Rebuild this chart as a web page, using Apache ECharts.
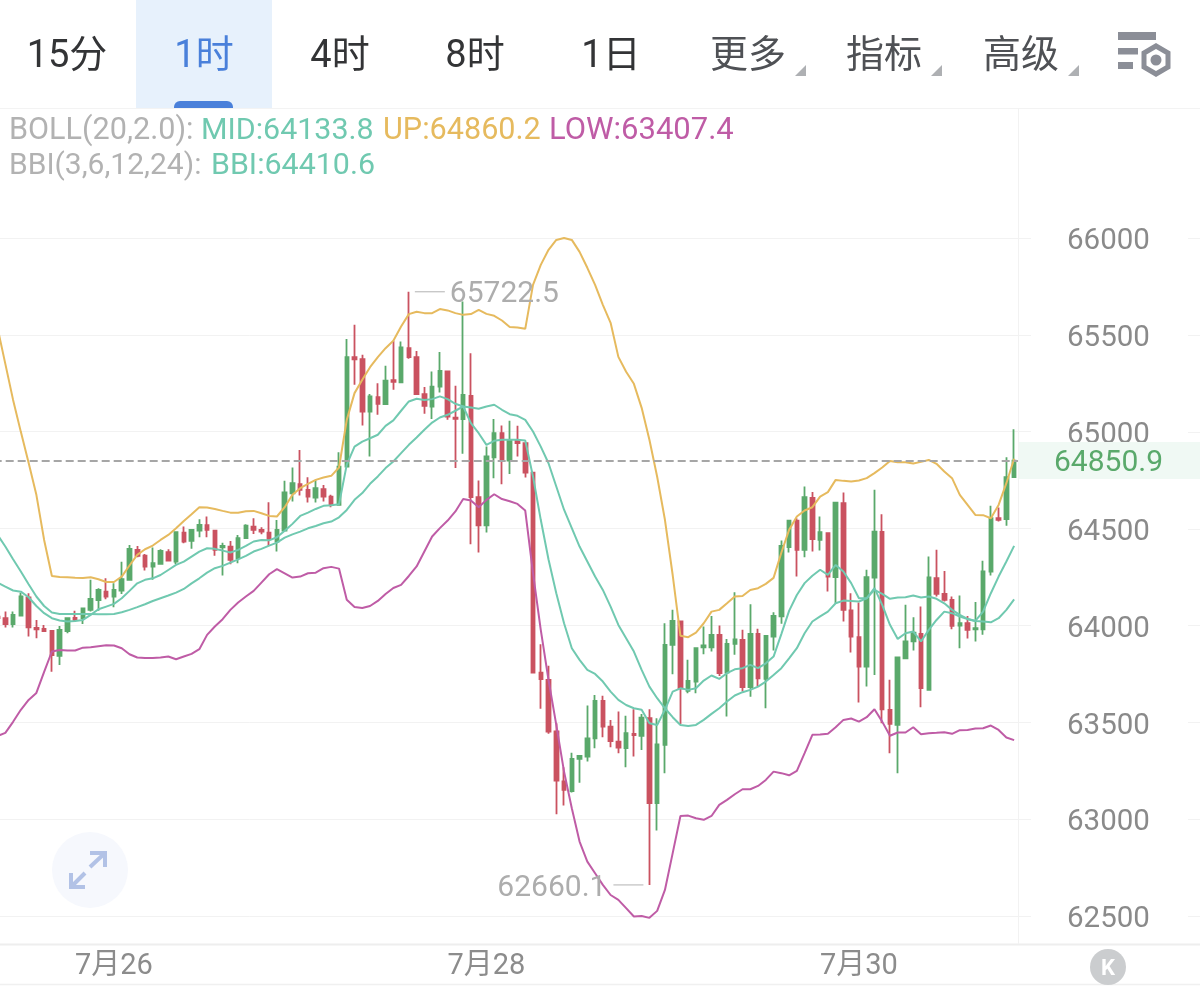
<!DOCTYPE html>
<html>
<head>
<meta charset="utf-8">
<style>html,body{margin:0;padding:0;background:#fff;overflow:hidden;width:1200px;height:988px;position:relative}#c{position:absolute;left:-7px;top:0;width:1207px;height:988px}</style>
<script src="https://cdn.jsdelivr.net/npm/echarts@6/dist/echarts.min.js"></script>
</head>
<body>
<div id="c"></div>
<script>
// Hourly candles: [open, close, low, high]
const ohlc = [
[64045,64038,64030,64050],[64037,64007,63989,64071],[64007,64054,63989,64071],[64051,64149,64051,64169],
[64145,63990,63942,64166],[63987,63980,63933,64028],[63982,63971,63968,64002],[63971,63847,63761,63971],
[63842,63977,63796,63997],[63971,64037,63959,64042],[64038,64028,64020,64076],[64037,64088,64007,64088],
[64080,64137,64071,64235],[64131,64183,64076,64192],[64174,64149,64135,64243],[64149,64183,64094,64217],
[64180,64238,64162,64329],[64235,64395,64235,64415],[64390,64359,64352,64410],[64360,64303,64283,64369],
[64303,64321,64235,64402],[64317,64384,64317,64393],[64378,64334,64331,64393],[64329,64481,64317,64481],
[64479,64433,64424,64510],[64436,64493,64395,64498],[64489,64519,64455,64548],[64517,64493,64455,64562],
[64489,64390,64359,64489],[64403,64410,64257,64427],[64407,64338,64316,64436],[64347,64450,64321,64467],
[64450,64515,64448,64522],[64510,64493,64472,64553],[64493,64484,64470,64507],[64479,64445,64410,64636],
[64433,64493,64381,64544],[64489,64687,64489,64746],[64682,64734,64639,64815],[64729,64699,64670,64906],
[64699,64665,64634,64765],[64660,64708,64634,64751],[64703,64665,64639,64725],[64665,64622,64610,64674],
[64622,64820,64622,64894],[64820,65385,64820,65478],[65385,65374,65242,65552],[65374,65104,65032,65397],
[65104,65182,64872,65194],[65178,65144,65087,65250],[65142,65263,65142,65340],[65266,65257,65216,65469],
[65254,65435,65254,65466],[65431,65385,65376,65722.5],[65385,65194,65189,65417],[65194,65133,65092,65230],
[65130,65233,65066,65311],[65233,65314,65202,65411],[65311,65078,65061,65311],[65073,65066,64812,65237],
[65065,65190,64886,65672],[65185,64662,64419,65405],[64662,64516,64376,64748],[64516,64872,64479,64923],
[64868,64992,64760,65065],[64992,64851,64729,65032],[64851,64958,64782,65056],[64953,64941,64872,65030],
[64941,64789,64763,64941],[64789,63756,63756,64789],[63756,63722,63569,63903],[63718,63452,63440,63791],
[63452,63199,63025,63495],[63194,63151,63070,63268],[63145,63311,63137,63343],[63311,63326,63188,63331],
[63323,63417,63297,63586],[63417,63610,63366,63641],[63610,63477,63422,63636],[63477,63403,63371,63512],
[63400,63369,63340,63555],[63366,63443,63268,63533],[63440,63433,63323,63567],[63429,63524,63357,63543],
[63521,63082,62660.1,63567],[63082,63386,62941,63521],[63383,63899,63237,64011],[63899,64023,63748,64080],
[64020,63675,63491,64020],[63662,63713,63650,63822],[63710,63882,63650,63882],[63887,63896,63851,63994],
[63887,63951,63865,64049],[63951,63753,63739,63999],[63756,63904,63529,63930],[63904,63928,63848,64171],
[63925,63681,63658,63977],[63681,63956,63632,64109],[63956,63727,63687,63982],[63724,63946,63572,63946],
[63942,64049,63870,64068],[64046,64410,64008,64438],[64404,64540,64376,64545],[64540,64390,64252,64553],
[64390,64662,64352,64717],[64658,64445,64381,64688],[64441,64481,64386,64562],[64476,64252,64175,64476],
[64249,64634,64114,64634],[64631,64080,64020,64686],[64077,63942,63860,64166],[63939,63787,63602,64118],
[63787,64249,63684,64287],[64247,64484,63744,64700],[64483,63567,63495,64574],[63564,63491,63340,63719],
[63486,63834,63237,63834],[63830,63917,63830,64106],[63917,63963,63870,64042],[63956,63676,63577,64097],
[63667,64247,63664,64355],[64244,64163,64149,64390],[64163,64132,64123,64281],[64132,63997,63980,64149],
[63999,64011,63882,64154],[64011,63977,63932,64049],[63979,63985,63917,64120],[63980,64278,63951,64333],
[64278,64553,64257,64617],[64553,64545,64536,64608],[64548,64765,64514,64868],[64765,64850.9,64765,65013]
];

const bollUp = [
65536,65350,65164,64999,64839,64674,64441,64255,64250,64248,64246,64245,64248,64238,64224,64224,
64252,64309,64364,64393,64412,64441,64467,64501,64539,64574,64610,64608,64601,64591,64582,64581,
64589,64591,64579,64565,64562,64610,64674,64708,64730,64751,64763,64772,64815,65061,65199,65268,
65333,65385,65431,65469,65543,65607,65619,65612,65612,65633,65626,65612,65603,65607,65629,65608,
65598,65574,65540,65538,65531,65758,65861,65939,65990,66000,65990,65928,65846,65758,65655,65562,
65386,65309,65247,65123,64958,64767,64545,64260,63946,63939,63963,64011,64071,64080,64114,64149,
64152,64183,64192,64214,64245,64375,64493,64562,64593,64610,64665,64688,64751,64746,64743,64748,
64760,64786,64815,64849,64842,64842,64836,64844,64854,64834,64794,64760,64674,64622,64570,64569,
64553,64622,64734,64860.2
];
const bollLow = [
63429,63445,63502,63564,63615,63651,63760,63865,63873,63870,63870,63885,63887,63892,63897,63896,
63882,63851,63834,63832,63832,63834,63839,63825,63839,63853,63877,63951,63994,64032,64080,64118,
64149,64178,64221,64264,64290,64269,64247,64252,64269,64272,64295,64302,64293,64132,64095,64090,
64100,64126,64162,64193,64209,64255,64304,64381,64459,64502,64541,64588,64652,64645,64610,64648,
64677,64652,64641,64627,64593,64270,63977,63718,63486,63245,63056,62884,62780,62720,62660,62608,
62583,62540,62497,62500,62490,62526,62634,62824,63016,63018,63004,62996,63016,63073,63099,63128,
63154,63154,63171,63202,63245,63237,63226,63249,63340,63435,63436,63440,63474,63512,63519,63503,
63526,63567,63503,63430,63447,63447,63474,63438,63443,63445,63448,63440,63459,63460,63467,63469,
63483,63460,63421,63407.4
];
const bollMid = [
64467,64407,64341,64278,64212,64149,64100,64066,64059,64059,64059,64059,64059,64057,64057,64059,
64068,64080,64094,64109,64126,64140,64154,64169,64188,64217,64243,64272,64295,64307,64324,64341,
64359,64381,64395,64412,64427,64453,64470,64484,64501,64513,64527,64536,64558,64596,64648,64683,
64731,64769,64812,64846,64889,64932,64970,65010,65047,65073,65087,65108,65130,65125,65118,65130,
65139,65113,65090,65082,65061,65001,64923,64837,64717,64597,64502,64407,64330,64252,64183,64097,
64002,63934,63865,63770,63684,63624,63572,63526,63486,63481,63486,63512,63543,63572,63607,63638,
63655,63667,63684,63710,63744,63779,63830,63882,63959,64020,64046,64071,64114,64128,64126,64123,
64140,64183,64163,64137,64144,64145,64154,64144,64149,64137,64114,64080,64054,64034,64023,64020,
64016,64037,64080,64133.8
];
const bbi = [
64221,64200,64180,64174,64145,64100,64063,64037,64025,64020,64023,64028,64054,64083,64097,64111,
64140,64178,64217,64235,64243,64260,64286,64312,64329,64355,64381,64398,64395,64386,64376,64390,
64410,64433,64441,64439,64455,64488,64524,64565,64582,64601,64617,64620,64625,64830,64923,64949,
64966,64984,65030,65058,65108,65156,65170,65164,65168,65182,65168,65144,65130,65044,64992,64932,
64953,64958,64958,64958,64954,64769,64545,64340,64166,64011,63882,63822,63770,63749,63710,63658,
63615,63589,63572,63564,63495,63486,63564,63658,63675,63667,63675,63715,63741,63724,63753,63773,
63779,63796,63779,63804,63839,63955,64075,64157,64218,64256,64287,64261,64312,64278,64218,64140,
64140,64192,64106,64003,63930,63959,63968,63917,63977,64028,64071,64063,64046,64032,64023,64071,
64166,64252,64330,64410.6
];

const priceTicks = [62500,63000,63500,64000,64500,65000,65500,66000];
const dateLabels = ['7月26','7月28','7月30'];
const periodTabs = ['15分','1时','4时','8时','1日','更多','指标','高级'];
const tabCentres = [67,204,340,475,611,748,884,1021];

// The first candle opens at 09:00 on 7月25
const categories = ohlc.map((_, i) => {
  const h = 9 + i, d = 25 + Math.floor(h / 24), hh = h % 24;
  return '7月' + d + ' ' + String(hh).padStart(2, '0') + ':00';
});

const FONT = 'Roboto, "Noto Sans CJK SC", sans-serif';
const GREEN = '#5aa96b', RED = '#ca5260', TEAL = '#70c9b0', GOLD = '#e6ba5e', PINK = '#bf5ca6', GREY = '#b2b2b2';
const RULE = '#f2f2f2';
const PAGE_OFFSET = 7; // the canvas starts left of the page so the oldest candle is cut by the edge
const last = ohlc[ohlc.length - 1][1];
const hiIdx = ohlc.findIndex(c => c[3] === Math.max(...ohlc.map(x => x[3])));
const loIdx = ohlc.findIndex(c => c[2] === Math.min(...ohlc.map(x => x[2])));

const text = (s, x, y, size, fill, align) => ({
  type: 'text', z: 20, silent: true,
  style: { text: s, x, y, fontSize: size, fontFamily: FONT, fill, align: align || 'left', verticalAlign: 'middle' }
});
const rule = (x1, y1, x2, y2, stroke, w) => ({
  type: 'line', z: 5, silent: true, shape: { x1, y1, x2, y2 }, style: { stroke: stroke || '#eeeeee', lineWidth: w || 1 }
});
const poly = (pts, style, closed) => ({
  type: closed ? 'polygon' : 'polyline', z: 20, silent: true, shape: { points: pts }, style
});

const chrome = [
  // tab bar
  { type: 'rect', z: 2, silent: true, shape: { x: 136, y: 0, width: 136, height: 108 }, style: { fill: '#e7f1fc' } },
  { type: 'rect', z: 3, silent: true, shape: { x: 174, y: 101, width: 59, height: 7, r: [6, 6, 0, 0] }, style: { fill: '#4a80da' } },
  rule(0, 108.5, 1200, 108.5, '#f3f3f3'),
  rule(0, 944.5, 1200, 944.5, '#eeeeee', 2),
  rule(0, 984.5, 1200, 984.5, '#f0f0f0', 1.5),
  rule(1018.5, 108, 1018.5, 944, '#f2f2f2'),
  // last-price band behind the axis readout
  { type: 'rect', z: 1, silent: true, shape: { x: 1019, y: 442, width: 181, height: 37 }, style: { fill: '#f0f9f4' } },
  ...periodTabs.map((t, i) => text(t, tabCentres[i], 57, 38, i === 1 ? '#4a80da' : i > 4 ? '#4f5155' : '#333436', 'center')),
  ...[806, 942, 1079].map(x => poly([[x, 65], [x, 76], [x - 11, 76]], { fill: '#aeb0b3' }, true)),
  // settings icon
  ...[[1118, 32, 38, 8], [1118, 48, 20, 6.5], [1118, 62, 15, 7]].map(r => ({
    type: 'rect', z: 20, silent: true, shape: { x: r[0], y: r[1], width: r[2], height: r[3] }, style: { fill: '#8b8e97' }
  })),
  poly([[1156, 46], [1168, 53], [1168, 67], [1156, 74], [1144, 67], [1144, 53]], { fill: '#fff', stroke: '#8b8e97', lineWidth: 5 }, true),
  { type: 'circle', z: 21, silent: true, shape: { cx: 1156, cy: 60, r: 5.5 }, style: { fill: '#8b8e97' } },
  // indicator readouts
  text('BOLL(20,2.0):', 9, 131, 30.6, GREY),
  text('MID:64133.8', 201, 131, 30.4, TEAL),
  text('UP:64860.2', 383, 131, 30.6, GOLD),
  text('LOW:63407.4', 549, 131, 31, PINK),
  text('BBI(3,6,12,24):', 9, 166, 30, GREY),
  text('BBI:64410.6', 211, 166, 30.4, TEAL),
  // expand button
  { type: 'circle', z: 1, silent: true, shape: { cx: 90, cy: 870, r: 38 }, style: { fill: '#f6f8fd' } },
  poly([[90, 853], [105, 853], [105, 867]], { fill: 'none', stroke: '#b2c2e6', lineWidth: 4 }),
  poly([[90, 867], [105, 853]], { fill: 'none', stroke: '#b2c2e6', lineWidth: 4 }),
  poly([[71, 873], [71, 887], [85, 887]], { fill: 'none', stroke: '#b2c2e6', lineWidth: 4 }),
  poly([[85, 873], [71, 887]], { fill: 'none', stroke: '#b2c2e6', lineWidth: 4 }),
  // kline badge
  { type: 'circle', z: 20, silent: true, shape: { cx: 1108, cy: 967, r: 18 }, style: { fill: '#cbcdcf' } },
  { type: 'text', z: 21, silent: true, style: { text: 'K', x: 1108, y: 969, fontSize: 22, fontWeight: 'bold', fontFamily: FONT, fill: '#ffffff', align: 'center', verticalAlign: 'middle' } }
];

const lineSeries = (name, data, color) => ({
  name, type: 'line', data, symbol: 'none', smooth: false, silent: true, z: 4,
  lineStyle: { color, width: 2 }, itemStyle: { color }
});

const chart = echarts.init(document.getElementById('c'), null, { renderer: 'canvas' });
const shifted = elements => [{ type: 'group', id: 'page', x: PAGE_OFFSET, y: 0, children: elements }];

chart.setOption({
  animation: false,
  backgroundColor: '#ffffff',
  graphic: { elements: shifted(chrome) },
  grid: { left: 0.69, width: 1024.32, top: 108, height: 836 },
  xAxis: {
    type: 'category', data: categories, boundaryGap: true,
    axisLine: { show: false }, axisTick: { show: false }, splitLine: { show: false },
    axisLabel: {
      interval: (i, v) => v.endsWith(' 00:00') && dateLabels.includes(v.split(' ')[0]),
      formatter: v => v.split(' ')[0],
      margin: 8, fontSize: 29, fontFamily: FONT, color: '#8c8c8c', hideOverlap: false
    }
  },
  yAxis: {
    type: 'value', position: 'right', min: 62355, max: 66671,
    axisLine: { show: false },
    axisTick: { show: true, length: 13, lineStyle: { color: RULE }, customValues: priceTicks },
    splitLine: { show: true, lineStyle: { color: RULE, width: 1 } },
    axisLabel: { customValues: priceTicks, margin: 49, fontSize: 29.5, fontFamily: FONT, color: '#8a8a8a', formatter: v => String(v), verticalAlign: 'top', lineHeight: 8 }
  },
  series: [
    {
      name: 'K', type: 'candlestick', data: ohlc, barWidth: 4, z: 3,
      itemStyle: { color: GREEN, color0: RED, borderColor: GREEN, borderColor0: RED, borderWidth: 1.8 },
      markLine: {
        silent: true, symbol: 'none', animation: false,
        lineStyle: { color: '#a6a6a6', type: [8, 4], width: 2 },
        data: [{ yAxis: last }],
        label: {
          position: 'end', distance: 36, formatter: p => p.value.toFixed(1), offset: [0, 3],
          fontSize: 30, fontFamily: FONT, color: GREEN
        }
      },
      markPoint: {
        silent: true, animation: false,
        data: [
          {
            coord: [hiIdx, ohlc[hiIdx][3]], value: ohlc[hiIdx][3], symbol: 'rect', symbolSize: [30, 1.3], symbolOffset: [21, 0],
            itemStyle: { color: '#c4c4c4' },
            label: { show: true, position: 'right', distance: 5, offset: [0, 3], formatter: p => p.value.toFixed(1), fontSize: 30, fontFamily: FONT, color: '#adadad' }
          },
          {
            coord: [loIdx, ohlc[loIdx][2]], value: ohlc[loIdx][2], symbol: 'rect', symbolSize: [30, 1.3], symbolOffset: [-21, 0],
            itemStyle: { color: '#c4c4c4' },
            label: { show: true, position: 'left', distance: 7, offset: [0, 4], formatter: p => p.value.toFixed(1), fontSize: 30, fontFamily: FONT, color: '#adadad' }
          }
        ]
      }
    },
    lineSeries('BBI', bbi, TEAL),
    lineSeries('MID', bollMid, TEAL),
    lineSeries('UP', bollUp, GOLD),
    lineSeries('LOW', bollLow, PINK)
  ]
});

// Short rule stubs at the far right edge of each price level
const stubs = priceTicks.map(v => {
  const y = Math.round(chart.convertToPixel({ yAxisIndex: 0 }, v)) + 0.5;
  return rule(1188, y, 1200, y, RULE);
});
chart.setOption({ graphic: { elements: shifted(chrome.concat(stubs)) } });
</script>
</body>
</html>
